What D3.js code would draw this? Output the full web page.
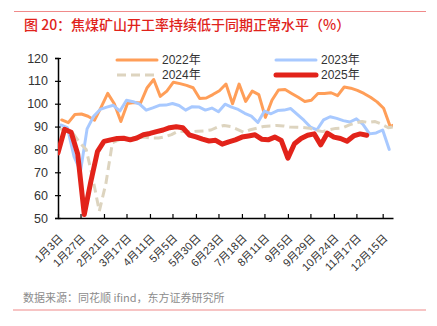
<!DOCTYPE html>
<html>
<head>
<meta charset="utf-8">
<script src="https://cdn.jsdelivr.net/npm/d3@7"></script>
<style>
body { margin: 0; background: #fff; }
svg { display: block; }
</style>
</head>
<body>
<div id="chart"></div>
<script>
// x axis labels (dates shown on the chart)
var tickLabels = ["1月3日", "1月27日", "2月21日", "3月17日", "4月11日", "5月5日", "5月30日", "6月23日",
	"7月18日", "8月11日", "9月5日", "9月29日", "10月24日", "11月17日", "12月15日"];
var yTicks = [50, 60, 70, 80, 90, 100, 110, 120];

var seriesNames = ["2022年", "2023年", "2024年", "2025年"];
// first weekly observation of each year (month-day), then one value per week
var startDays = ["01-07", "01-06", "01-05", "01-03"];

var values2022 = [92.9, 91.7, 95.3, 95.5, 94.5, 92.8, 98.5, 104.5, 100, 92.2,
	100.1, 100.5, 100.3, 107, 110.6, 103.2, 105.5, 109.4, 108.8, 108,
	107, 102.3, 102.5, 104, 105.7, 108.6, 100, 108.6, 101, 105.5,
	104, 94, 101.5, 106, 106.2, 104.5, 102.8, 101, 101.5, 104.5,
	104.5, 104.8, 103.5, 107.3, 106.8, 105.8, 104.5, 102.8, 100.8, 98,
	90, 91.2];
var values2023 = [90.7, 89.5, 77, 70.5, 89, 94.5, 97.5, 98.5, 99.3, 96.8,
	101.5, 100.9, 99.8, 97.2, 98.2, 99.3, 99.4, 100.1, 99.2, 97.2,
	98.7, 98.6, 97.2, 98.1, 96.5, 99.8, 98.5, 97.5, 95.8, 94.6,
	91.8, 96.8, 95.6, 97, 97.2, 97.9, 95.3, 92.8, 89.8, 88.6,
	92.9, 94.3, 93.6, 92.6, 92, 93.4, 91, 86.8, 87.2, 88.5,
	80];
var values2024 = [89, 88.5, 87, 83, 80, 67.5, 53, 65, 83, 84.2,
	84.8, 85, 85.3, 85.3, 85, 85, 85.5, 86.5, 88, 87.8,
	87.8, 88, 88.1, 88.5, 89.8, 90.5, 90, 88.8, 87.5, 88.6,
	89.3, 90, 90.3, 90.5, 90.3, 89.8, 89.7, 89.6, 89.3, 88.4,
	87.8, 88.6, 89.2, 89.4, 90.6, 91.6, 92.2, 91.8, 92.2, 91,
	89.5, 90];
var values2025 = [78.5, 88.8, 87.5, 78, 51.5, 66, 79, 83.5, 84.2, 84.8,
	84.9, 84.2, 85, 86.4, 87, 87.8, 88.5, 89.5, 89.9, 89.5,
	86.3, 85.5, 84.5, 83.7, 84, 82.3, 83.3, 84.2, 85.4, 85.9,
	86.4, 84.5, 84.2, 85.4, 83.9, 76.2, 82.5, 84.8, 86.2, 86.8,
	82, 87.1, 85.4, 84.8, 83.6, 85.9, 86.8, 86.2];

var seriesValues = [values2022, values2023, values2024, values2025];
var colors = ["#FF9E58", "#A8C9FF", "#DDD4BF", "#E2231A"];
var widths = [3, 3, 3, 5];
var dashes = [null, null, "9,5", null];

var cnFont = "'Liberation Sans', Arial, 'Noto Sans CJK SC', sans-serif";

function labelToDate(s) {
	var m = s.match(/(\d+)月(\d+)日/);
	return new Date(2025, +m[1] - 1, +m[2]);
}

function weeklyPoints(start, values) {
	var p = start.split("-");
	var d0 = new Date(2025, +p[0] - 1, +p[1]);
	return values.map(function (v, i) {
		return [d3.timeDay.offset(d0, 7 * i), v];
	});
}

function drawChart() {
	var width = 437, height = 326;
	var plot = {left: 58, right: 393, top: 58, bottom: 218};

	var svg = d3.select("#chart").append("svg")
		.attr("width", width)
		.attr("height", height);

	// title and rules
	svg.append("line")
		.attr("x1", 14).attr("x2", 426).attr("y1", 11.5).attr("y2", 11.5)
		.attr("stroke", "#F08A8A").attr("stroke-width", 1.2);
	svg.append("text")
		.attr("x", 24).attr("y", 30)
		.attr("fill", "#E0231B")
		.attr("font-family", "'Noto Sans CJK SC', sans-serif")
		.attr("font-size", 14)
		.attr("font-weight", 500)
		.text("图 20：焦煤矿山开工率持续低于同期正常水平（%）");
	svg.append("line")
		.attr("x1", 13).attr("x2", 426).attr("y1", 310).attr("y2", 310)
		.attr("stroke", "#F08A8A").attr("stroke-width", 1.2);
	svg.append("text")
		.attr("x", 23).attr("y", 302)
		.attr("fill", "#8c8c8c")
		.attr("font-family", "'Noto Sans CJK SC', sans-serif")
		.attr("font-size", 11)
		.text("数据来源：同花顺 ifind，东方证券研究所");

	var x = d3.scaleTime()
		.domain([new Date(2025, 0, 3), new Date(2025, 11, 26)])
		.range([plot.left, plot.right]);
	var y = d3.scaleLinear()
		.domain([50, 120])
		.range([plot.bottom, plot.top]);

	svg.append("clipPath").attr("id", "plotclip")
		.append("rect")
		.attr("x", plot.left).attr("y", 30)
		.attr("width", plot.right - plot.left).attr("height", plot.bottom - 30 + 4);

	// y axis
	var yAxis = svg.append("g")
		.attr("transform", "translate(" + plot.left + ",0)")
		.call(d3.axisLeft(y).tickValues(yTicks).tickSize(3).tickPadding(7));
	yAxis.select(".domain").attr("stroke", "#000").attr("stroke-width", 1.5);
	yAxis.selectAll(".tick line").attr("x1", 3).attr("stroke", "#000").attr("stroke-width", 1.2);
	yAxis.selectAll(".tick text")
		.attr("fill", "#333")
		.attr("font-family", "'Liberation Sans Narrow', 'Liberation Sans', Arial, sans-serif")
		.attr("font-size", 12.5);

	// x axis
	var tickDates = tickLabels.map(labelToDate);
	var xAxis = svg.append("g")
		.attr("transform", "translate(0," + plot.bottom + ")")
		.call(d3.axisBottom(x).tickValues(tickDates).tickSizeInner(-4).tickSizeOuter(0)
			.tickFormat(function (d, i) { return tickLabels[i]; }));
	xAxis.select(".domain").attr("stroke", "#000").attr("stroke-width", 1.5);
	xAxis.selectAll(".tick line").attr("stroke", "#000").attr("stroke-width", 1.2);
	xAxis.selectAll(".tick text")
		.attr("fill", "#333")
		.attr("font-family", cnFont)
		.attr("font-size", 11)
		.attr("text-anchor", "end")
		.attr("y", 0)
		.attr("dy", 0)
		.attr("transform", "translate(5,21) rotate(-45)");

	// lines
	var line = d3.line()
		.x(function (d) { return x(d[0]); })
		.y(function (d) { return y(d[1]); });

	var lines = svg.append("g").attr("clip-path", "url(#plotclip)");
	for (var s = 0; s < seriesValues.length; s++) {
		lines.append("path")
			.datum(weeklyPoints(startDays[s], seriesValues[s]))
			.attr("fill", "none")
			.attr("stroke", colors[s])
			.attr("stroke-width", widths[s])
			.attr("stroke-dasharray", dashes[s])
			.attr("stroke-linejoin", "round")
			.attr("stroke-linecap", dashes[s] ? "butt" : "round")
			.attr("d", line);
	}

	// legend, two rows of two
	var legendX = [117, 276, 117, 276];
	var legendY = [60, 60, 75, 75];
	for (var k = 0; k < seriesNames.length; k++) {
		svg.append("line")
			.attr("x1", legendX[k]).attr("x2", legendX[k] + 40)
			.attr("y1", legendY[k]).attr("y2", legendY[k])
			.attr("stroke", colors[k])
			.attr("stroke-width", widths[k])
			.attr("stroke-dasharray", dashes[k])
			.attr("stroke-linecap", dashes[k] ? "butt" : "round");
		svg.append("text")
			.attr("x", legendX[k] + 45).attr("y", legendY[k])
			.attr("dy", "0.36em")
			.attr("fill", "#333")
			.attr("font-family", cnFont)
			.attr("font-size", 12)
			.text(seriesNames[k]);
	}
}

drawChart();
</script>
</body>
</html>
